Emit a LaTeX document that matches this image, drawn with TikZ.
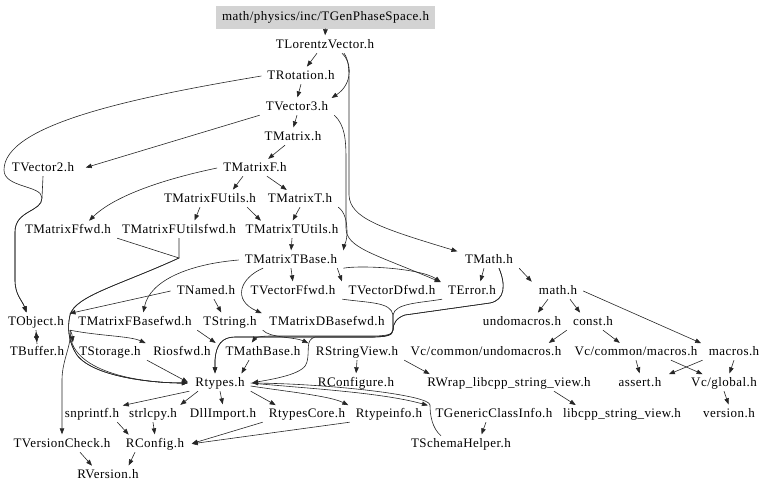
\documentclass[tikz,border=0pt]{standalone}
\usepackage{fontspec}
\setmainfont[LetterSpace=3.5]{Liberation Serif}
\usetikzlibrary{arrows.meta}
\definecolor{rootgray}{RGB}{211,211,211}
\begin{document}
\begin{tikzpicture}[x=1pt,y=-1pt,
  fn/.style={inner xsep=6pt,inner ysep=2pt,text height=9pt,text depth=3pt,font=\fontsize{13}{15}\selectfont},
  rootbox/.style={fn,fill=rootgray,minimum width=215pt,minimum height=23pt},
  dep/.style={draw=black!85,line width=0.6pt,-{Triangle[length=6pt,width=4.5pt]},shorten >=1.5pt}]
\useasboundingbox (0,0) rectangle (768,491);
% nodes
\node[rootbox] (gps) at (325.5,17) {math/physics/inc/TGenPhaseSpace.h};
\node[fn] (tlv) at (325,45) {TLorentzVector.h};
\node[fn] (trot) at (301,76) {TRotation.h};
\node[fn] (tv3) at (297,107) {TVector3.h};
\node[fn] (tmat) at (293,137) {TMatrix.h};
\node[fn] (tv2) at (43,168) {TVector2.h};
\node[fn] (tmf) at (255,168) {TMatrixF.h};
\node[fn] (tmfu) at (210,199) {TMatrixFUtils.h};
\node[fn] (tmt) at (300,199) {TMatrixT.h};
\node[fn] (tmffwd) at (68,230) {TMatrixFfwd.h};
\node[fn] (tmfufwd) at (179,230) {TMatrixFUtilsfwd.h};
\node[fn] (tmtu) at (292,230) {TMatrixTUtils.h};
\node[fn] (tmtb) at (291,260) {TMatrixTBase.h};
\node[fn] (tmath) at (489,260) {TMath.h};
\node[fn] (tnamed) at (206,291) {TNamed.h};
\node[fn] (tvff) at (293,291) {TVectorFfwd.h};
\node[fn] (tvdf) at (392,291) {TVectorDfwd.h};
\node[fn] (terr) at (472,291) {TError.h};
\node[fn] (mathh) at (558,291) {math.h};
\node[fn] (tobj) at (36,322) {TObject.h};
\node[fn] (tmfbf) at (135,322) {TMatrixFBasefwd.h};
\node[fn] (tstr) at (230,322) {TString.h};
\node[fn] (tmdbf) at (327,322) {TMatrixDBasefwd.h};
\node[fn] (undo) at (522,322) {undomacros.h};
\node[fn] (const) at (593,322) {const.h};
\node[fn] (tbuf) at (37,352) {TBuffer.h};
\node[fn] (tstor) at (110,352) {TStorage.h};
\node[fn] (riosf) at (182,352) {Riosfwd.h};
\node[fn] (tmb) at (263,352) {TMathBase.h};
\node[fn] (rsv) at (357,352) {RStringView.h};
\node[fn] (vcundo) at (486,352) {Vc/common/undomacros.h};
\node[fn] (vcmac) at (636,352) {Vc/common/macros.h};
\node[fn] (macros) at (734,352) {macros.h};
\node[fn] (rtypes) at (220,383) {Rtypes.h};
\node[fn] (rconfigure) at (356,383) {RConfigure.h};
\node[fn] (rwrap) at (509,383) {RWrap\_libcpp\_string\_view.h};
\node[fn] (assert) at (640,383) {assert.h};
\node[fn] (vcglobal) at (724,383) {Vc/global.h};
\node[fn] (snprintf) at (92,414) {snprintf.h};
\node[fn] (strlcpy) at (153,414) {strlcpy.h};
\node[fn] (dllimp) at (223,414) {DllImport.h};
\node[fn] (rtcore) at (307,414) {RtypesCore.h};
\node[fn] (rtinfo) at (389,414) {Rtypeinfo.h};
\node[fn] (tgci) at (494,414) {TGenericClassInfo.h};
\node[fn] (libcpp) at (622,414) {libcpp\_string\_view.h};
\node[fn] (version) at (729,414) {version.h};
\node[fn] (tvc) at (62,444) {TVersionCheck.h};
\node[fn] (rconfig) at (155,444) {RConfig.h};
\node[fn] (tsh) at (461,444) {TSchemaHelper.h};
\node[fn] (rversion) at (108,475) {RVersion.h};
% top edges
\draw[dep] (gps.south) -- (tlv.north);
\draw[dep] ([xshift=-8pt]tlv.south) -- ([xshift=5pt]trot.north);
\draw[dep] ([xshift=17pt]tlv.south) .. controls (352,62) and (353,84) .. ([xshift=-4pt]tv3.north east);
\draw[dep] ([xshift=19pt]tlv.south) .. controls (349,60) and (349,70) .. (349,85) -- (349,195) .. controls (350,218) and (380,228) .. (tmath.north west);
\draw[dep] (trot.south) -- (tv3.north);
\draw[dep] (trot.west) .. controls (130,98) and (4,125) .. (4,170) .. controls (4,188) and (42,185) .. (42,198) .. controls (42,212) and (15,210) .. (15,232) -- (15,280) .. controls (15,295) and (22,300) .. ([xshift=-9pt]tobj.north);
\draw[dep] (tv2.south) -- (42,198) .. controls (42,212) and (15,210) .. (15,232) -- (15,280) .. controls (15,295) and (22,300) .. ([xshift=-9pt]tobj.north);
\draw[dep] (tv3.south west) -- ([xshift=4pt]tv2.east);
\draw[dep] (tv3.south) -- (tmat.north);
\draw[dep] (tv3.south east) .. controls (345,125) and (346,140) .. (346,160) -- (346,228) .. controls (346,248) and (375,254) .. (terr.north west);
\draw[dep] ([xshift=-8pt]tmat.south) -- ([xshift=12pt]tmf.north);
\draw[dep] ([xshift=-12pt]tmf.south) -- ([xshift=22pt]tmfu.north);
\draw[dep] ([xshift=12pt]tmf.south) -- ([xshift=-12pt]tmt.north);
\draw[dep] (tmf.west) .. controls (150,182) and (110,200) .. ([xshift=20pt]tmffwd.north);
\draw[dep] ([xshift=-10pt]tmfu.south) -- ([xshift=15pt]tmfufwd.north);
\draw[dep] ([xshift=-15pt]tmfu.south east) -- ([xshift=-30pt]tmtu.north);
\draw[dep] (tmt.south) -- (tmtu.north);
\draw[dep] (tmt.south east) .. controls (345,212) and (347,222) .. (347,232) .. controls (347,242) and (344,246) .. (tmtb.north east);
\draw[dep] (tmtu.south) -- (tmtb.north);
% fwd headers to Rtypes
\draw[dep] (tmffwd.south east) -- (179,258) .. controls (120,285) and (75,296) .. (70,315) .. controls (67,328) and (69,340) .. (74,350) .. controls (85,376) and (150,383) .. (rtypes.west);
\draw[dep] (tmfufwd.south) -- (179,258) .. controls (120,285) and (75,296) .. (70,315) .. controls (67,328) and (69,340) .. (74,350) .. controls (85,376) and (150,383) .. (rtypes.west);
% TObject
\draw[dep] (tnamed.west) -- ([xshift=-2pt]tobj.north east);
\draw[dep] ([xshift=8pt]tnamed.south) -- ([xshift=-8pt]tstr.north);
\draw[dep] (tobj.south) -- (tbuf.north);
\draw[dep] (tbuf.north) -- (tobj.south);
\draw[dep] (tobj.south east) .. controls (72,334) .. (tstor.north west);
\draw[dep] (tobj.south east) .. controls (100,336) and (130,336) .. (riosf.north west);
\draw[dep] (tobj.south east) .. controls (72,345) and (62,360) .. (62,380) -- (tvc.north);
\draw[dep] (tobj.south east) .. controls (68,372) and (140,383) .. (rtypes.west);
\draw[dep] (tstor.south east) -- (rtypes.west);
% TMatrixTBase
\draw[dep] (tmtb.west) .. controls (190,264) and (150,280) .. ([xshift=8pt]tmfbf.north);
\draw[dep] (tmtb.south) -- (tvff.north);
\draw[dep] ([xshift=-6pt]tmtb.south east) -- (tvdf.north west);
\draw[dep] (tmtb.south east) .. controls (360,265) and (420,268) .. (terr.north west);
\draw[dep] ([xshift=-28pt]tmtb.south) .. controls (240,278) and (232,300) .. (tmdbf.north west);
% TMath
\draw[dep] ([xshift=-5pt]tmath.south) -- ([xshift=8pt]terr.north);
\draw[dep] (tmath.south east) -- (mathh.north west);
\draw[dep] ([xshift=10pt]tmath.south) .. controls (506,285) and (505,300) .. (490,303) -- (405,315) .. controls (396,318) and (393,324) .. (393,330) .. controls (393,335) and (385,336) .. (370,336) -- (270,336) .. controls (260,336) and (255,338) .. ([xshift=-12pt]tmb.north);
\draw[dep] ([xshift=10pt]tmath.south) .. controls (506,285) and (505,300) .. (490,303) -- (405,315) .. controls (396,318) and (393,324) .. (393,330) .. controls (393,335) and (385,337) .. (370,337) -- (315,337) .. controls (305,340) and (310,350) .. (307,362) .. controls (305,373) and (280,378) .. (rtypes.east);
\draw[dep] (terr.south west) .. controls (420,303) and (395,303) .. (393,315) -- (393,330) .. controls (393,336) and (385,337) .. (370,337) -- (235,337) .. controls (222,337) and (216,345) .. (215,360) -- ([xshift=-5pt]rtypes.north);
\draw[dep] (tvdf.south west) .. controls (370,303) and (391,302) .. (393,315) -- (393,330) .. controls (393,336) and (385,337) .. (370,337) -- (235,337) .. controls (222,337) and (216,345) .. (215,360) -- ([xshift=-5pt]rtypes.north);
% TString
\draw[dep] (tstr.south west) -- (riosf.north east);
\draw[dep] (tstr.south east) .. controls (270,338) and (295,337) .. (rsv.north west);
\draw[dep] ([xshift=-14pt]tmb.south) -- ([xshift=-10pt]rtypes.north east);
% RStringView
\draw[dep] (rsv.south) -- (rconfigure.north);
\draw[dep] (rsv.south east) -- ([xshift=10pt]rwrap.north west);
\draw[dep] ([xshift=45pt]rwrap.south) -- ([xshift=-45pt]libcpp.north);
% Rtypes
\draw[dep] (rtypes.south west) -- ([xshift=-4pt]snprintf.north east);
\draw[dep] ([xshift=-22pt]rtypes.south) -- ([xshift=-4pt]strlcpy.north east);
\draw[dep] (rtypes.south) -- (dllimp.north);
\draw[dep] (rtypes.south east) -- ([xshift=-30pt]rtcore.north);
\draw[dep] ([yshift=-3pt]rtypes.east) .. controls (290,392) and (330,396) .. (rtinfo.north west);
\draw[dep] (rtypes.east) .. controls (300,388) and (380,392) .. (tgci.north west);
\draw[dep] ([xshift=-20pt]tsh.north) .. controls (432,428) and (430,415) .. (430,405) .. controls (430,395) and (330,384) .. (rtypes.east);
\draw[dep] ([xshift=-8pt]tgci.south) -- ([xshift=20pt]tsh.north);
\draw[dep] ([xshift=-8pt]snprintf.south east) -- ([xshift=10pt]rconfig.north west);
\draw[dep] (strlcpy.south) -- (rconfig.north);
\draw[dep] (rtcore.south west) -- (rconfig.east);
\draw[dep] (rtinfo.south west) -- (rconfig.east);
\draw[dep] ([xshift=18pt]tvc.south) -- ([xshift=-15pt]rversion.north);
\draw[dep] ([xshift=-20pt]rconfig.south) -- ([xshift=20pt]rversion.north);
% math.h side
\draw[dep] ([xshift=-10pt]mathh.south) -- ([xshift=15pt]undo.north);
\draw[dep] ([xshift=12pt]mathh.south) -- ([xshift=-12pt]const.north);
\draw[dep] (mathh.east) -- (macros.north west);
\draw[dep] (const.south west) -- ([xshift=-20pt]vcundo.north east);
\draw[dep] ([xshift=10pt]const.south) -- ([xshift=-15pt]vcmac.north);
\draw[dep] (vcmac.south) -- (assert.north);
\draw[dep] ([xshift=35pt]vcmac.south) -- ([xshift=-20pt]vcglobal.north);
\draw[dep] (macros.south west) -- (assert.north east);
\draw[dep] (macros.south) -- ([xshift=5pt]vcglobal.north);
\draw[dep] (vcglobal.south) -- (version.north);
\end{tikzpicture}
\end{document}
